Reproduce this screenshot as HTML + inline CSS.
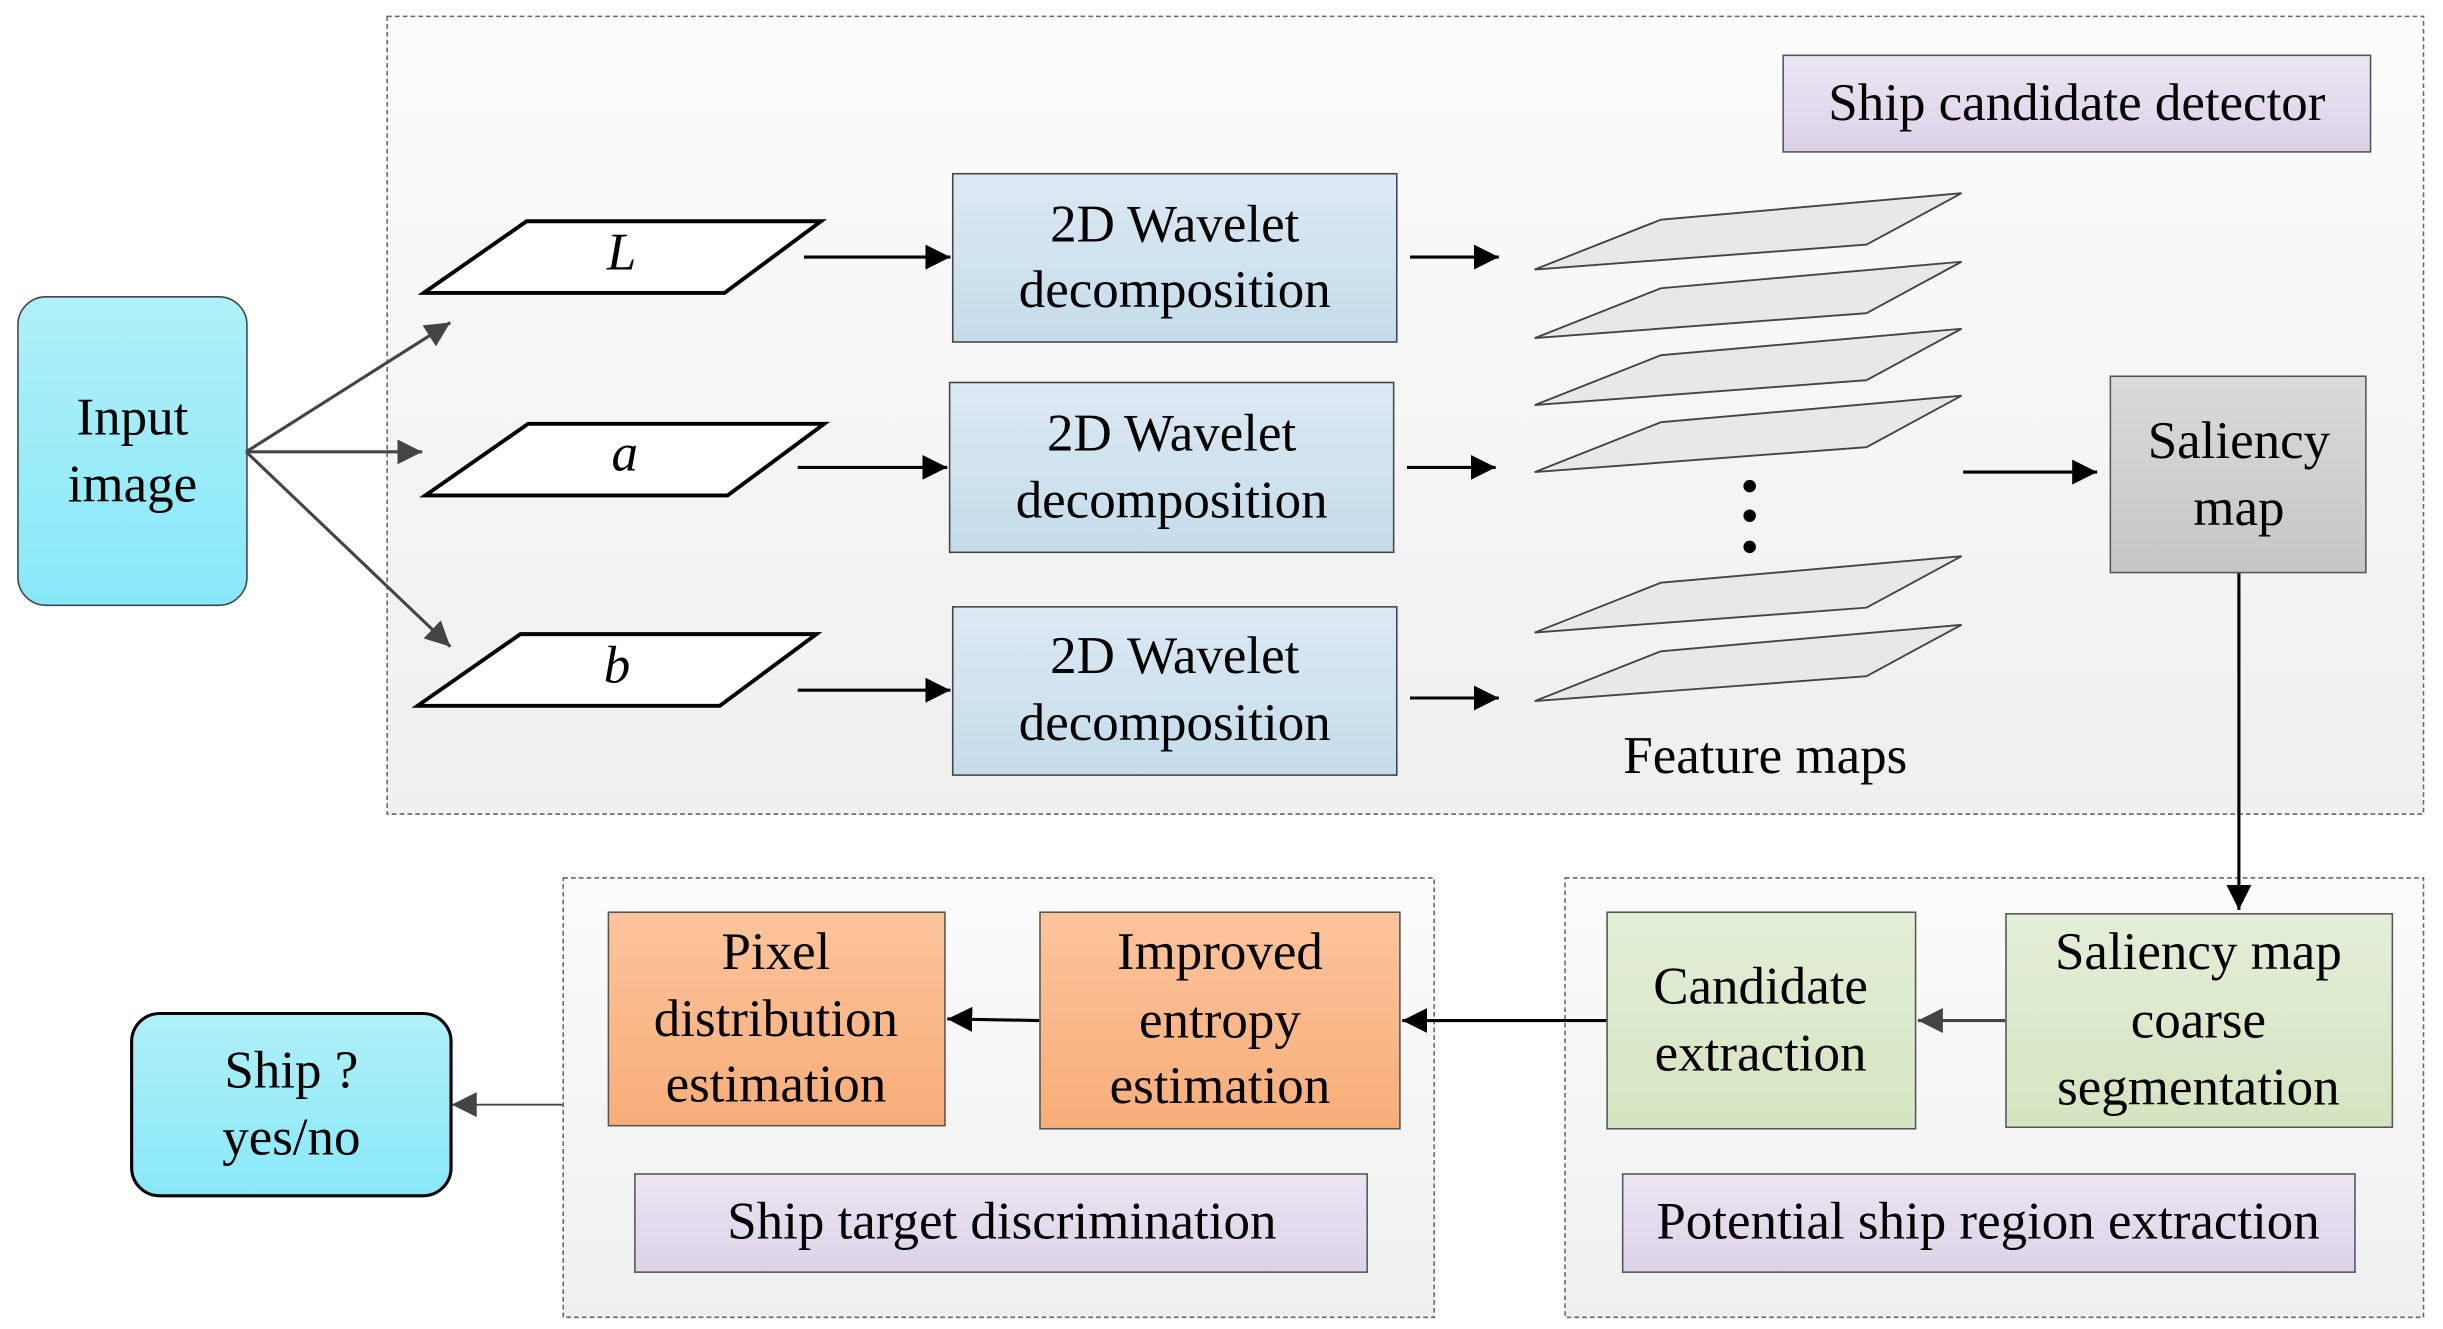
<!DOCTYPE html>
<html><head><meta charset="utf-8"><style>html,body{margin:0;padding:0;background:#fff}svg{display:block}text{font-family:"Liberation Serif",serif}</style></head><body>
<svg width="2443" height="1329" viewBox="0 0 1568 853" preserveAspectRatio="none" xmlns="http://www.w3.org/2000/svg" font-family="'Liberation Serif', serif" font-size="34">
<defs>
<linearGradient id="bg" x1="0" y1="0" x2="0" y2="1"><stop offset="0" stop-color="#fcfcfc"/><stop offset="1" stop-color="#efefef"/></linearGradient>
<linearGradient id="cy" x1="0" y1="0" x2="0" y2="1"><stop offset="0" stop-color="#b0f0f8"/><stop offset="1" stop-color="#88e8f8"/></linearGradient>
<linearGradient id="bl" x1="0" y1="0" x2="0" y2="1"><stop offset="0" stop-color="#dce9f3"/><stop offset="1" stop-color="#c4dcea"/></linearGradient>
<linearGradient id="gr" x1="0" y1="0" x2="0" y2="1"><stop offset="0" stop-color="#dadada"/><stop offset="1" stop-color="#c6c6c6"/></linearGradient>
<linearGradient id="or" x1="0" y1="0" x2="0" y2="1"><stop offset="0" stop-color="#fcc49c"/><stop offset="1" stop-color="#f8ad78"/></linearGradient>
<linearGradient id="gn" x1="0" y1="0" x2="0" y2="1"><stop offset="0" stop-color="#e4eed8"/><stop offset="1" stop-color="#d4e4c0"/></linearGradient>
<linearGradient id="pl" x1="0" y1="0" x2="0" y2="1"><stop offset="0" stop-color="#ebe5f1"/><stop offset="1" stop-color="#dcd2e8"/></linearGradient>
<marker id="a" viewBox="0 0 10 10" refX="10" refY="5" markerWidth="16" markerHeight="16" markerUnits="userSpaceOnUse" orient="auto"><path d="M0,0 L10,5 L0,10 z" fill="#000"/></marker>
<marker id="g" viewBox="0 0 10 10" refX="10" refY="5" markerWidth="16" markerHeight="16" markerUnits="userSpaceOnUse" orient="auto"><path d="M0,0 L10,5 L0,10 z" fill="#444"/></marker>
</defs>
<rect x="248.5" y="10.5" width="1307" height="512" fill="url(#bg)" stroke="#666" stroke-dasharray="3,2"/>
<rect x="361.5" y="563.5" width="559" height="282" fill="url(#bg)" stroke="#666" stroke-dasharray="3,2"/>
<rect x="1004.5" y="563.5" width="551" height="282" fill="url(#bg)" stroke="#666" stroke-dasharray="3,2"/>
<rect x="1144.5" y="35.5" width="377" height="62" fill="url(#pl)" stroke="#555"/>
<text x="1333" y="77" text-anchor="middle">Ship candidate detector</text>
<rect x="407.5" y="753.5" width="470" height="63" fill="url(#pl)" stroke="#555"/>
<text x="643" y="795" text-anchor="middle">Ship target discrimination</text>
<rect x="1041.5" y="753.5" width="470" height="63" fill="url(#pl)" stroke="#555"/>
<text x="1276" y="795" text-anchor="middle">Potential ship region extraction</text>
<rect x="11.5" y="190.5" width="147" height="198" rx="18" fill="url(#cy)" stroke="#444"/>
<text x="85" y="279" text-anchor="middle">Input</text><text x="85" y="322" text-anchor="middle">image</text>
<g stroke="#444" stroke-width="2" fill="none">
<line x1="158" y1="290" x2="289" y2="207" marker-end="url(#g)"/>
<line x1="158" y1="290" x2="271" y2="290" marker-end="url(#g)"/>
<line x1="158" y1="290" x2="289" y2="415" marker-end="url(#g)"/>
</g>
<g stroke="#000" stroke-width="2.5" fill="#fff">
<polygon points="272,188 338,142 527,142 465,188"/>
<polygon points="273,318 339,272 529,272 467,318"/>
<polygon points="268,453 334,407 524,407 462,453"/>
</g>
<g font-style="italic" text-anchor="middle"><text x="399" y="173">L</text><text x="401" y="302">a</text><text x="396" y="438">b</text></g>
<g stroke="#000" stroke-width="2" fill="none">
<line x1="516" y1="165" x2="610" y2="165" marker-end="url(#a)"/>
<line x1="512" y1="300" x2="608" y2="300" marker-end="url(#a)"/>
<line x1="512" y1="443" x2="610" y2="443" marker-end="url(#a)"/>
<line x1="905" y1="165" x2="962" y2="165" marker-end="url(#a)"/>
<line x1="903" y1="300" x2="960" y2="300" marker-end="url(#a)"/>
<line x1="905" y1="448" x2="962" y2="448" marker-end="url(#a)"/>
<line x1="1260" y1="303" x2="1346" y2="303" marker-end="url(#a)"/>
<line x1="1437" y1="368" x2="1437" y2="584" marker-end="url(#a)"/>
<line x1="1287" y1="655" x2="1231" y2="655" stroke="#444" marker-end="url(#g)"/>
<line x1="1031" y1="655" x2="900" y2="655" marker-end="url(#a)"/>
<line x1="667" y1="655" x2="608" y2="654" marker-end="url(#a)"/>
<line x1="361" y1="709" x2="290" y2="709" stroke="#444" stroke-width="1.2" marker-end="url(#g)"/>
</g>
<g fill="url(#bl)" stroke="#444"><rect x="611.5" y="111.5" width="285" height="108"/><rect x="609.5" y="245.5" width="285" height="109"/><rect x="611.5" y="389.5" width="285" height="108"/></g>
<g text-anchor="middle">
<text x="754" y="155">2D Wavelet</text><text x="754" y="197">decomposition</text>
<text x="752" y="289">2D Wavelet</text><text x="752" y="332">decomposition</text>
<text x="754" y="432">2D Wavelet</text><text x="754" y="475">decomposition</text>
</g>
<g fill="#e8e8e8" stroke="#444" stroke-width="1.2">
<polygon points="985,173 1066,141 1259,124 1198,157"/>
<polygon points="985,217 1066,185 1259,168 1198,201"/>
<polygon points="985,260 1066,228 1259,211 1198,244"/>
<polygon points="985,303 1066,271 1259,254 1198,287"/>
<polygon points="985,406 1066,374 1259,357 1198,390"/>
<polygon points="985,450 1066,418 1259,401 1198,434"/>
</g>
<g fill="#000"><circle cx="1123" cy="312" r="4"/><circle cx="1123" cy="331" r="4"/><circle cx="1123" cy="351" r="4"/></g>
<text x="1133" y="496" text-anchor="middle">Feature maps</text>
<rect x="1354.5" y="241.5" width="164" height="126" fill="url(#gr)" stroke="#555"/>
<text x="1437" y="294" text-anchor="middle">Saliency</text><text x="1437" y="337" text-anchor="middle">map</text>
<rect x="1287.5" y="586.5" width="248" height="137" fill="url(#gn)" stroke="#555"/>
<g text-anchor="middle"><text x="1411" y="622">Saliency map</text><text x="1411" y="666">coarse</text><text x="1411" y="709">segmentation</text></g>
<rect x="1031.5" y="585.5" width="198" height="139" fill="url(#gn)" stroke="#555"/>
<g text-anchor="middle"><text x="1130" y="644">Candidate</text><text x="1130" y="687">extraction</text></g>
<rect x="667.5" y="585.5" width="231" height="139" fill="url(#or)" stroke="#555"/>
<g text-anchor="middle"><text x="783" y="622">Improved</text><text x="783" y="666">entropy</text><text x="783" y="708">estimation</text></g>
<rect x="390.5" y="585.5" width="216" height="137" fill="url(#or)" stroke="#555"/>
<g text-anchor="middle"><text x="498" y="622">Pixel</text><text x="498" y="665">distribution</text><text x="498" y="707">estimation</text></g>
<rect x="84.5" y="650.5" width="205" height="117" rx="18" fill="url(#cy)" stroke="#000" stroke-width="2"/>
<g text-anchor="middle"><text x="187" y="698">Ship ?</text><text x="187" y="741">yes/no</text></g>
</svg>
</body></html>
